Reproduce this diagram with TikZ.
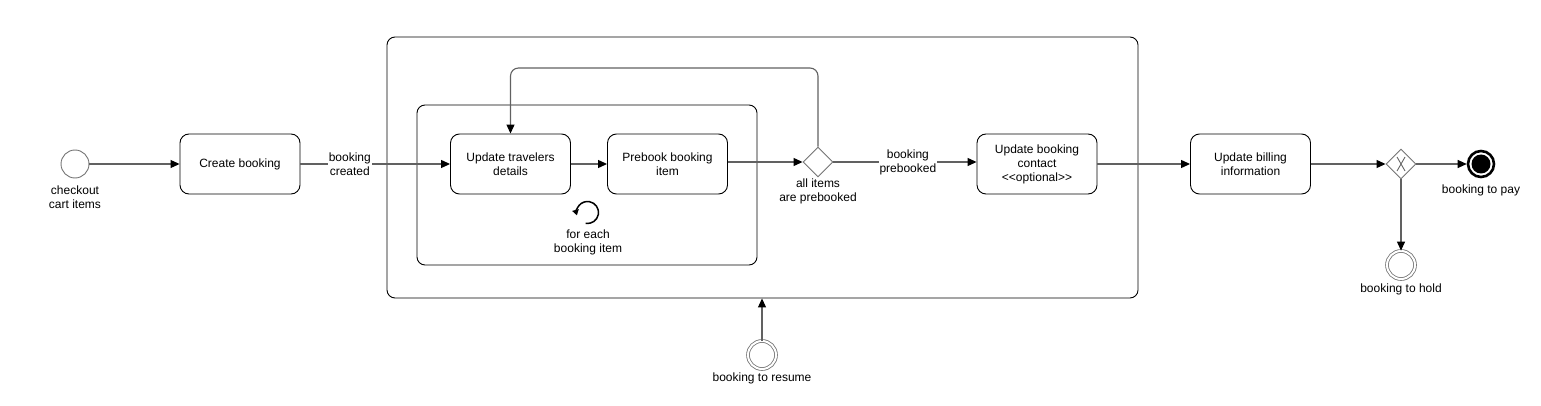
\documentclass[tikz,border=0pt]{standalone}
\usepackage{fontspec}
\setmainfont{Liberation Sans}
\usetikzlibrary{arrows.meta,shapes.geometric,calc}
\begin{document}
\begin{tikzpicture}[x=1pt,y=-1pt,
  every node/.style={font=\fontsize{12}{14}\selectfont, text=black},
  task/.style={draw=black, rounded corners=9pt, minimum width=120pt, minimum height=60pt, align=center, inner sep=0pt, line width=0.9pt},
  frame/.style={draw=black, rounded corners=8pt, line width=0.9pt, inner sep=0pt},
  flow/.style={draw=black!62, line width=1.1pt, -{Triangle[length=9pt,width=8pt,color=black,fill=black]}},
  evt/.style={circle, draw=black!55, line width=0.9pt, minimum size=28pt, inner sep=0pt},
  dblevt/.style={circle, draw=black!55, line width=0.8pt, minimum size=28pt, inner sep=0pt, double=white, double distance=2pt},
  endevt/.style={circle, draw=black, line width=2.6pt, minimum size=26pt, inner sep=0pt},
  gate/.style={diamond, draw=black!55, line width=0.9pt, minimum width=30pt, minimum height=30pt, inner sep=0pt, aspect=1},
  lbl/.style={align=center, fill=white, inner sep=1pt},
  evlbl/.style={align=center, inner sep=0pt}
]
\useasboundingbox (0,0) rectangle (1541,406);

% frames
\node[frame, minimum width=751pt, minimum height=261pt] (outer) at (762.5,167.5) {};
\node[frame, minimum width=340pt, minimum height=160pt] (inner) at (587,185) {};

% events
\node[evt] (start) at (75,164) {};
\node[evlbl] (startlbl) at (75,197) {checkout\\cart items};

% tasks
\node[task] (create) at (240,164) {Create booking};
\node[task] (upd) at (510.5,164) {Update travelers\\details};
\node[task] (pre) at (667.5,164) {Prebook booking\\item};
\node[task] (contact) at (1037,164) {Update booking\\contact\\<{}<optional>{}>};
\node[task] (bill) at (1250.5,164) {Update billing\\information};

% gateways
\node[gate] (gw1) at (818,162) {};
\node[evlbl] (gw1lbl) at (818,191) {all items\\are prebooked};
\node[gate] (gw2) at (1401,164) {};
\draw[black!60, line width=0.9pt] ($(gw2)+(-4,-7)$) -- ($(gw2)+(4,7)$) ($(gw2)+(4,-7)$) -- ($(gw2)+(-4,7)$);

% loop marker
\coordinate (loop) at (587.5,212.5);
\draw[line width=1.5pt, -{Triangle[length=5.5pt,width=6.5pt]}] ($(loop)+(100:11)$) arc[start angle=100, end angle=-195, radius=11];
\node[evlbl] (looplbl) at (588,242) {for each\\booking item};

% end events
\node[endevt] (pay) at (1481,164) {};
\fill[black] (pay) circle[radius=9.5];
\node[evlbl] (paylbl) at (1481,190) {booking to pay};
\node[dblevt] (hold) at (1401,265) {};
\node[evlbl] (holdlbl) at (1401,289) {booking to hold};
\node[dblevt] (resume) at (762,355) {};
\node[evlbl] (resumelbl) at (762,378) {booking to resume};

% flows
\draw[flow] (start) -- (create);
\draw[flow] (create) -- node[lbl, pos=0.33] {booking\\created} (upd);
\draw[flow] (upd) -- (pre);
\draw[flow] (pre.east |- gw1.west) -- (gw1.west);
\draw[flow, rounded corners=8pt] (gw1.north) -- (gw1.north |- 0,68) -- (upd.north |- 0,68) -- (upd.north);
\draw[flow] (gw1.east) -- node[lbl, pos=0.52] {booking\\prebooked} (contact.west |- gw1.east);
\draw[flow] (contact) -- (bill);
\draw[flow] (bill) -- (gw2);
\draw[flow] (gw2) -- (pay);
\draw[flow] (gw2) -- (hold);
\draw[flow] (resume) -- (resume |- outer.south);
\end{tikzpicture}
\end{document}
